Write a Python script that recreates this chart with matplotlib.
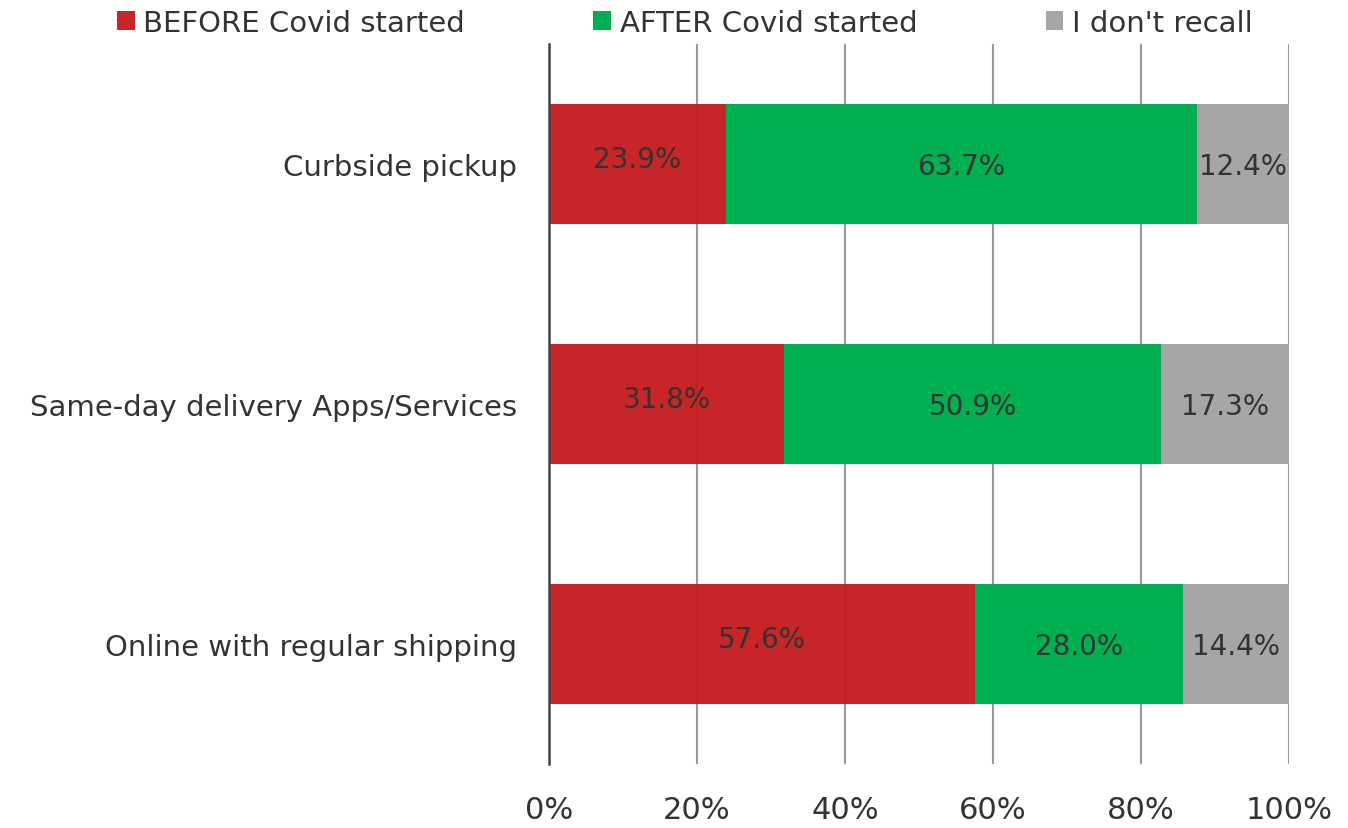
import matplotlib.pyplot as plt

categories = ['Curbside pickup', 'Same-day delivery Apps/Services', 'Online with regular shipping']
before = [23.9, 31.8, 57.6]
after = [63.7, 50.9, 28.0]
dont_recall = [12.4, 17.3, 14.4]
series_names = ['BEFORE Covid started', 'AFTER Covid started', "I don't recall"]
colors = ['#C4191C', '#00AF50', '#A6A6A6']
xticks = [0, 20, 40, 60, 80, 100]

plt.rcParams['font.family'] = ['DejaVu Sans']
text_color = '#333333'

fig = plt.figure(figsize=(13.48, 8.29), dpi=100)
ax = fig.add_axes([0.4073, 0.0772, 0.5490, 0.8685])

y = list(range(len(categories)))
left = [0] * len(categories)
bars = []
for vals, name, col in zip([before, after, dont_recall], series_names, colors):
    b = ax.barh(y, vals, left=left, height=0.5, color=col, label=name, zorder=1,
                alpha=0.95 if col == colors[0] else 1.0)
    bars.append(b)
    for yi, l, v in zip(y, left, vals):
        # red labels sit a little higher in the original
        dy = -0.02 if col == colors[0] else 0.01
        ax.text(l + v / 2, yi + dy, f'{v:.1f}%', ha='center', va='center',
                fontsize=20, color=text_color, zorder=3)
    left = [l + v for l, v in zip(left, vals)]

ax.set_xlim(0, 100)
ax.set_ylim(2.5, -0.5)
ax.set_xticks(xticks)
ax.set_xticklabels([f'{t}%' for t in xticks])
ax.set_yticks(y)
ax.set_yticklabels(categories)
ax.tick_params(axis='x', length=0, pad=22, labelsize=22, labelcolor=text_color)
ax.tick_params(axis='y', length=0, pad=23, labelsize=21, labelcolor=text_color)
ax.grid(axis='x', color='#999999', linewidth=1.5, zorder=0)
ax.set_axisbelow(True)
for s in ['top', 'right', 'bottom']:
    ax.spines[s].set_visible(False)
ax.spines['left'].set_color('#444444')
ax.spines['left'].set_linewidth(1.8)
ax.spines['left'].set_zorder(4)

fig.legend(handles=bars, labels=series_names, loc='upper center', ncol=3,
           bbox_to_anchor=(0.508, 1.02), frameon=False, fontsize=21,
           handlelength=0.6, handleheight=0.6, handletextpad=0.3,
           columnspacing=4.4, labelcolor=text_color)

fig.savefig('out.png', dpi=100)
